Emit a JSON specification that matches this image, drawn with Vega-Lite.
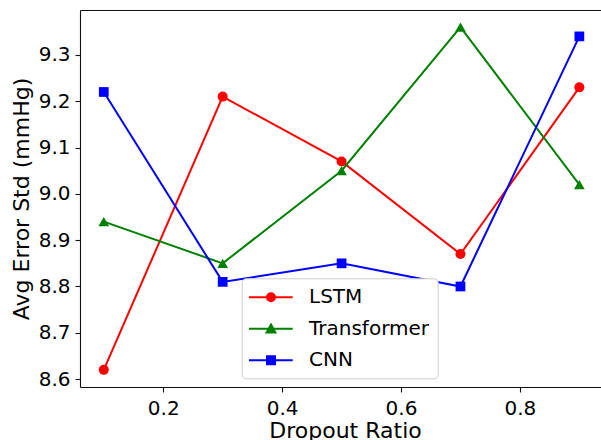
{
  "$schema": "https://vega.github.io/schema/vega-lite/v6.json",
  "width": 521,
  "height": 377,
  "autosize": {"type": "none"},
  "padding": {"left": 80, "top": 10, "right": 0, "bottom": 53},
  "background": "white",
  "data": {
    "values": [
      {"ratio": 0.1, "model": "LSTM", "std": 8.62},
      {"ratio": 0.3, "model": "LSTM", "std": 9.21},
      {"ratio": 0.5, "model": "LSTM", "std": 9.07},
      {"ratio": 0.7, "model": "LSTM", "std": 8.87},
      {"ratio": 0.9, "model": "LSTM", "std": 9.23},
      {"ratio": 0.1, "model": "Transformer", "std": 8.94},
      {"ratio": 0.3, "model": "Transformer", "std": 8.85},
      {"ratio": 0.5, "model": "Transformer", "std": 9.05},
      {"ratio": 0.7, "model": "Transformer", "std": 9.36},
      {"ratio": 0.9, "model": "Transformer", "std": 9.02},
      {"ratio": 0.1, "model": "CNN", "std": 9.22},
      {"ratio": 0.3, "model": "CNN", "std": 8.81},
      {"ratio": 0.5, "model": "CNN", "std": 8.85},
      {"ratio": 0.7, "model": "CNN", "std": 8.80},
      {"ratio": 0.9, "model": "CNN", "std": 9.34}
    ]
  },
  "encoding": {
    "y": {"field": "std", "type": "quantitative", "scale": {"domain": [8.583, 9.397], "nice": false, "zero": false},
      "axis": {"title": "Avg Error Std (mmHg)", "values": [8.6, 8.7, 8.8, 8.9, 9.0, 9.1, 9.2, 9.3], "format": ".1f", "titlePadding": 5, "labelPadding": 5}}
  },
  "layer": [
    {
      "transform": [{"filter": "datum.model === 'LSTM'"}],
      "mark": {"type": "line", "strokeWidth": 2, "color": "#ff0000", "point": {"shape": "circle", "size": 100, "filled": true, "opacity": 1, "color": "#ff0000"}},
      "encoding": {
        "x": {"field": "ratio", "type": "quantitative", "scale": {"domain": [0.06, 0.9364], "nice": false, "zero": false},
          "axis": {"orient": "bottom", "title": "Dropout Ratio", "values": [0.2, 0.4, 0.6, 0.8], "format": ".1f", "labelPadding": 6, "titlePadding": 2, "titleX": 265, "titleAlign": "center"}}
      }
    },
    {
      "transform": [{"filter": "datum.model === 'Transformer'"}],
      "mark": {"type": "line", "strokeWidth": 2, "color": "#008000", "point": {"shape": "triangle-up", "size": 115, "filled": true, "opacity": 1, "color": "#008000"}},
      "encoding": {
        "x": {"field": "ratio", "type": "quantitative", "axis": null}
      }
    },
    {
      "transform": [{"filter": "datum.model === 'CNN'"}],
      "mark": {"type": "line", "strokeWidth": 2, "color": "#0000ff", "point": {"shape": "square", "size": 95, "filled": true, "opacity": 1, "color": "#0000ff"}},
      "encoding": {
        "x": {"field": "ratio", "type": "quantitative", "axis": null}
      }
    },
    {
      "mark": {"type": "point", "filled": true, "opacity": 0},
      "encoding": {
        "x": {"field": "ratio", "type": "quantitative",
          "axis": {"orient": "top", "title": null, "labels": false, "ticks": false, "domain": true}},
        "color": {"field": "model", "type": "nominal",
          "scale": {"domain": ["LSTM", "Transformer", "CNN"], "range": ["#ff0000", "#008000", "#0000ff"]},
          "legend": {
            "title": null,
            "orient": "none",
            "legendX": 161.7,
            "legendY": 268.3,
            "padding": 8,
            "rowPadding": 10.5,
            "labelOffset": 37.3,
            "symbolSize": 400,
            "symbolStrokeWidth": 2,
            "symbolOpacity": 1,
            "labelFont": "DejaVu Sans",
            "labelFontSize": 20,
            "labelColor": "black",
            "fillColor": "white",
            "strokeColor": "#cccccc",
            "cornerRadius": 4,
            "encode": {
              "symbols": {
                "update": {
                  "fill": {"scale": "color", "field": "value"},
                  "stroke": {"scale": "color", "field": "value"},
                  "strokeWidth": {"value": 2},
                  "opacity": {"value": 1}
                }
              }
            }
          }},
        "shape": {"field": "model", "type": "nominal",
          "scale": {"domain": ["LSTM", "Transformer", "CNN"],
            "range": [
              "M-1.17,0H3.2M0.63,0A0.4,0.4,0,1,0,1.43,0A0.4,0.4,0,1,0,0.63,0Z",
              "M-1.17,0H3.2M1.03,-0.42L1.47,0.38L0.59,0.38Z",
              "M-1.17,0H3.2M0.63,-0.4H1.43V0.4H0.63Z"
            ]},
          "legend": {
            "title": null,
            "orient": "none",
            "legendX": 161.7,
            "legendY": 268.3,
            "padding": 8,
            "rowPadding": 10.5,
            "labelOffset": 37.3,
            "symbolSize": 400,
            "symbolStrokeWidth": 2,
            "symbolOpacity": 1,
            "labelFont": "DejaVu Sans",
            "labelFontSize": 20,
            "labelColor": "black",
            "fillColor": "white",
            "strokeColor": "#cccccc",
            "cornerRadius": 4
          }
        }
      }
    }
  ],
  "resolve": {"axis": {"x": "independent"}},
  "config": {
    "view": {"stroke": null},
    "axis": {
      "grid": false,
      "labelFont": "DejaVu Sans",
      "labelFontSize": 20,
      "labelColor": "black",
      "titleFont": "DejaVu Sans",
      "titleFontSize": 22,
      "titleFontWeight": "normal",
      "titleColor": "black",
      "domainColor": "#111111",
      "domainWidth": 1.1,
      "tickColor": "#111111",
      "tickWidth": 1.1,
      "tickSize": 5
    }
  }
}
